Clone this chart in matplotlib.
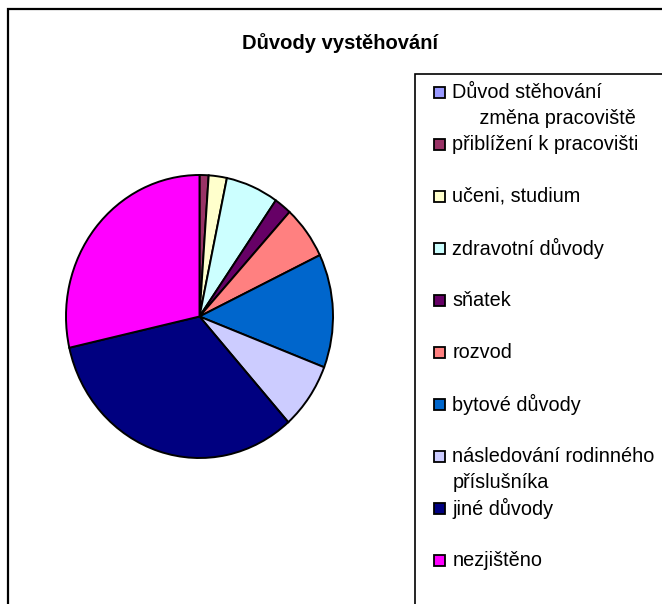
import matplotlib
matplotlib.use("Agg")
import matplotlib.pyplot as plt
from matplotlib.patches import Rectangle

title = "Důvody vystěhování"
categories = [
    "Důvod stěhování\n     změna pracoviště",
    "přiblížení k pracovišti",
    "učeni, studium",
    "zdravotní důvody",
    "sňatek",
    "rozvod",
    "bytové důvody",
    "následování rodinného\npříslušníka",
    "jiné důvody",
    "nezjištěno",
]
values = [0, 1.1, 2.2, 6.4, 2.1, 6.1, 13.0, 7.6, 33.1, 28.6]
colors = ["#9999FF", "#993366", "#FFFFCC", "#CCFFFF", "#660066",
          "#FF8080", "#0066CC", "#CCCCFF", "#000080", "#FF00FF"]

W, H = 662, 604
fig = plt.figure(figsize=(W / 100, H / 100), dpi=100)
fig.patch.set_facecolor("white")
FONT = ["Liberation Sans", "DejaVu Sans"]

def fx(px):
    return px / W

def fy(py):
    return 1 - py / H

# outer chart frame
fig.add_artist(Rectangle((fx(8), fy(700)), fx(700), fy(9) - fy(700),
                         transform=fig.transFigure, fill=False, edgecolor="black",
                         linewidth=1.6))

# title
fig.text(fx(340), fy(43), title, ha="center", va="center", fontsize=14.5,
         fontweight="bold", family=FONT)

# pie
cx, cy, rx, ry = 199.5, 316.5, 133.5, 141.5
ax = fig.add_axes([fx(cx - rx), fy(cy + ry), 2 * rx / W, 2 * ry / H])
ax.pie(values, colors=colors, startangle=90, counterclock=False,
       wedgeprops=dict(edgecolor="black", linewidth=1.4))
ax.set_aspect("auto")
ax.set_xlim(-1, 1)
ax.set_ylim(-1, 1)
ax.axis("off")

# legend frame
fig.add_artist(Rectangle((fx(415), fy(700)), fx(700), fy(74) - fy(700),
                         transform=fig.transFigure, fill=False, edgecolor="black",
                         linewidth=1.2))

# legend entries
y0, step, line_h = 92, 52, 26
for i, (lab, col) in enumerate(zip(categories, colors)):
    y = y0 + step * i
    fig.add_artist(Rectangle((fx(434), fy(y + 6)), 11 / W, 11 / H,
                             transform=fig.transFigure, facecolor=col,
                             edgecolor="black", linewidth=1.3))
    for k, line in enumerate(lab.split("\n")):
        fig.text(fx(452.5), fy(y + line_h * k), line, ha="left", va="center",
                 fontsize=14.3, family=FONT)

fig.savefig("out.png", dpi=100, facecolor="white")
